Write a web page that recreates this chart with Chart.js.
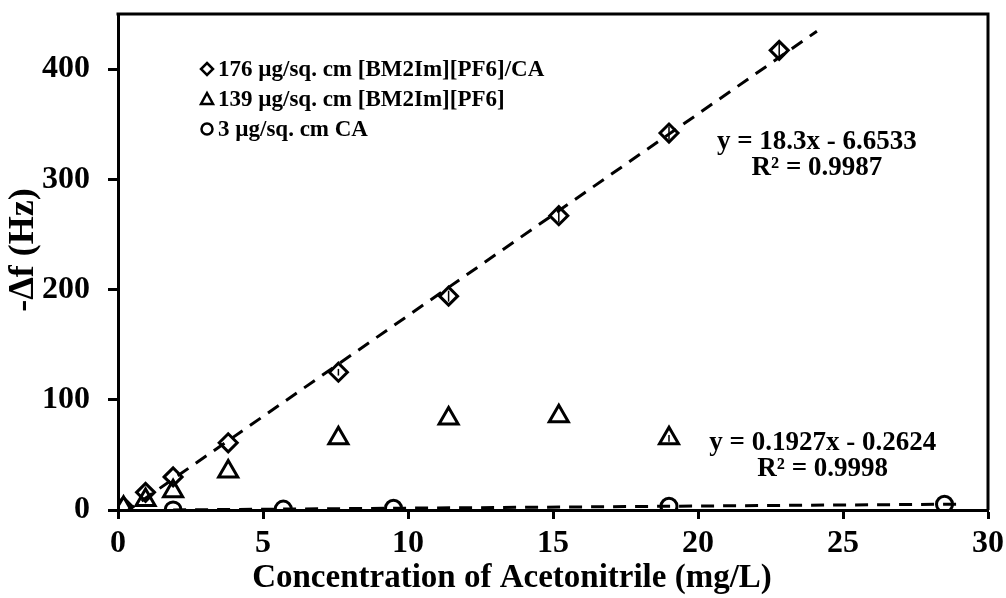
<!DOCTYPE html>
<html>
<head>
<meta charset="utf-8">
<script src="https://cdn.jsdelivr.net/npm/chart.js@4.4.1/dist/chart.umd.min.js"></script>
<style>
  html, body { margin: 0; padding: 0; background: #fff; }
  #wrap { width: 1006px; height: 598px; }
</style>
</head>
<body>
<div id="wrap"><canvas id="courbe"></canvas></div>
<script>
const FONT = '"Liberation Serif", "Times New Roman", serif'

// 176 µg/sq. cm [BM2Im][PF6]/CA
const concILCA = [0.19, 0.95, 1.9, 3.8, 7.6, 11.4, 15.2, 19, 22.8]
const dfILCA = [3, 16, 30, 61, 125, 194, 267, 342, 417]
const errILCA = [0, 0, 0, 0, 3, 5, 6, 6, 7]

// 139 µg/sq. cm [BM2Im][PF6]
const concIL = [0.19, 0.95, 1.9, 3.8, 7.6, 11.4, 15.2, 19]
const dfIL = [2, 9, 17, 35, 65, 83, 85, 65]
const errIL = [0, 0, 0, 0, 0, 0, 0, 3]

// 3 µg/sq. cm CA
const concCA = [1.9, 5.7, 9.5, 19, 28.5]
const dfCA = [0.1, 0.8, 1.6, 3.4, 5.2]

const labels = ['176 µg/sq. cm [BM2Im][PF6]/CA', '139 µg/sq. cm [BM2Im][PF6]', '3 µg/sq. cm CA']

const xTicks = [0, 5, 10, 15, 20, 25, 30]
const yTicks = [0, 100, 200, 300, 400]

// droites de tendance : pente, ordonnée, x début, x fin
const fitILCA = [18.3, -6.6533, 0.19, 24.1]
const fitCA = [0.1927, -0.2624, 1.9, 29.1]

// textes des équations et leur position (en valeurs des axes)
const eqTexts = [
    ['y = 18.3x - 6.6533', 'R² = 0.9987'],
    ['y = 0.1927x - 0.2624', 'R² = 0.9998']
]
const eqPos = [[24.1, 334, 310], [24.3, 61, 37]]

function pts(xs, ys) {
    return xs.map((x, i) => ({ x: x, y: ys[i] }))
}

function droite(fit) {
    return [fit[2], fit[3]].map(x => ({ x: x, y: fit[0] * x + fit[1] }))
}

const marque = {
    borderColor: '#000',
    backgroundColor: 'rgba(0,0,0,0)',
    borderWidth: 3,
    showLine: false
}

const tendance = {
    type: 'line',
    borderColor: '#000',
    borderWidth: 3,
    borderDash: [13, 9],
    pointRadius: 0,
    fill: false
}

// cadre haut/droite, barres d'erreur, légende, équations, titres des axes
const decor = {
    id: 'decor',
    afterDatasetsDraw(chart) {
        const ctx = chart.ctx
        const a = chart.chartArea
        const sx = chart.scales.x
        const sy = chart.scales.y

        ctx.save()
        ctx.strokeStyle = '#000'
        ctx.lineWidth = 3
        ctx.beginPath()
        ctx.moveTo(a.left - 1.5, a.top)
        ctx.lineTo(a.right, a.top)
        ctx.lineTo(a.right, a.bottom)
        ctx.stroke()

        // petites barres d'erreur
        ctx.lineWidth = 1.5
        const errs = [[concILCA, dfILCA, errILCA], [concIL, dfIL, errIL]]
        errs.forEach(e => {
            e[0].forEach((x, i) => {
                if (!e[2][i]) return
                const px = sx.getPixelForValue(x)
                ctx.beginPath()
                ctx.moveTo(px, sy.getPixelForValue(e[1][i] - e[2][i]))
                ctx.lineTo(px, sy.getPixelForValue(e[1][i] + e[2][i]))
                ctx.stroke()
            })
        })

        // légende
        ctx.lineWidth = 2.5
        ctx.fillStyle = '#000'
        ctx.font = 'bold 23px ' + FONT
        ctx.textBaseline = 'middle'
        ctx.textAlign = 'left'
        const styles = ['rectRot', 'triangle', 'circle']
        labels.forEach((lab, i) => {
            const cx = a.left + 89
            const cy = a.top + 55 + i * 30
            ctx.beginPath()
            if (styles[i] === 'rectRot') {
                ctx.moveTo(cx, cy - 6); ctx.lineTo(cx + 6, cy); ctx.lineTo(cx, cy + 6); ctx.lineTo(cx - 6, cy); ctx.closePath()
            } else if (styles[i] === 'triangle') {
                ctx.moveTo(cx, cy - 6); ctx.lineTo(cx + 6, cy + 5); ctx.lineTo(cx - 6, cy + 5); ctx.closePath()
            } else {
                ctx.arc(cx, cy, 5.5, 0, Math.PI * 2)
            }
            ctx.stroke()
            ctx.fillText(lab, cx + 11, cy + 1)
        })

        // équations
        ctx.font = 'bold 27px ' + FONT
        ctx.textAlign = 'center'
        eqTexts.forEach((t, i) => {
            const px = sx.getPixelForValue(eqPos[i][0])
            ctx.fillText(t[0], px, sy.getPixelForValue(eqPos[i][1]))
            ctx.fillText(t[1], px, sy.getPixelForValue(eqPos[i][2]))
        })

        // titres des axes
        ctx.font = 'bold 33px ' + FONT
        ctx.fillText('Concentration of Acetonitrile (mg/L)', 512, 578)
        ctx.font = 'bold 36px ' + FONT
        ctx.translate(24, 250)
        ctx.rotate(-Math.PI / 2)
        ctx.fillText('-Δf (Hz)', 0, 0)
        ctx.restore()
    }
}

new Chart(
    document.getElementById('courbe'),
    {
        type: 'scatter',
        data: {
            datasets: [
                { ...tendance, label: 'fit1', data: droite(fitILCA) },
                { ...tendance, label: 'fit2', data: droite(fitCA) },
                { ...marque, label: labels[0], data: pts(concILCA, dfILCA), pointStyle: 'rectRot', pointRadius: 9 },
                { ...marque, label: labels[1], data: pts(concIL, dfIL), pointStyle: 'triangle', pointRadius: 11 },
                { ...marque, label: labels[2], data: pts(concCA, dfCA), pointStyle: 'circle', pointRadius: 8 }
            ]
        },
        options: {
            responsive: true,
            maintainAspectRatio: false,
            animation: false,
            layout: { padding: { left: 0, top: 13, right: 18, bottom: 0 } },
            scales: {
                x: {
                    type: 'linear',
                    min: 0,
                    max: 30,
                    afterBuildTicks: s => { s.ticks = xTicks.map(v => ({ value: v })) },
                    afterFit: s => { s.height = 88; s.paddingLeft = 0; s.paddingRight = 0 },
                    border: { color: '#000', width: 3 },
                    grid: { drawOnChartArea: false, tickLength: 9, tickWidth: 3, tickColor: '#000' },
                    ticks: { color: '#000', padding: 6, maxRotation: 0, font: { family: FONT, size: 32, weight: 'bold' } }
                },
                y: {
                    type: 'linear',
                    min: 0,
                    max: 450,
                    afterBuildTicks: s => { s.ticks = yTicks.map(v => ({ value: v })) },
                    afterFit: s => { s.width = 118; s.paddingTop = 0; s.paddingBottom = 0 },
                    border: { color: '#000', width: 3 },
                    grid: { drawOnChartArea: false, tickLength: 10, tickWidth: 3, tickColor: '#000' },
                    ticks: { color: '#000', padding: 18, font: { family: FONT, size: 32, weight: 'bold' } }
                }
            },
            plugins: {
                legend: { display: false },
                tooltip: { enabled: false }
            }
        },
        plugins: [decor]
    }
)
</script>
</body>
</html>
